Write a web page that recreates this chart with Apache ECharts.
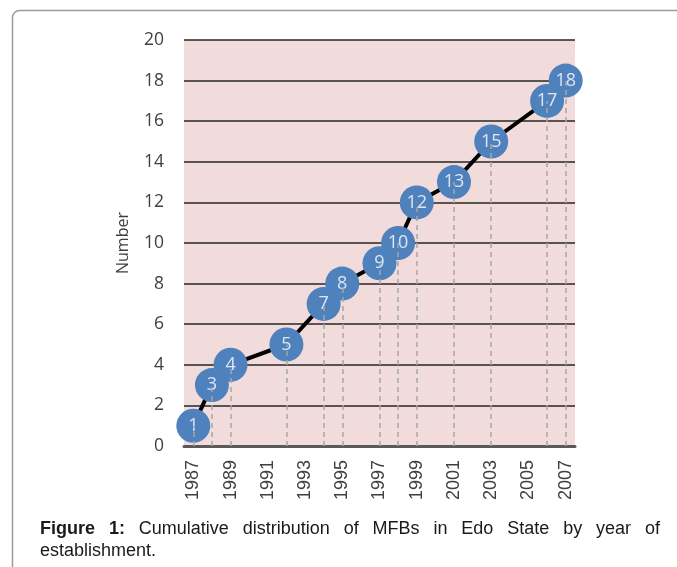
<!DOCTYPE html>
<html>
<head>
<meta charset="utf-8">
<script src="https://cdn.jsdelivr.net/npm/echarts@6/dist/echarts.min.js"></script>
<style>
  html, body { margin: 0; padding: 0; background: #fff; }
  #wrap { position: relative; width: 677px; height: 567px; overflow: hidden; }
  #chart { position: absolute; left: 0; top: 0; width: 677px; height: 567px; }
  #caption {
    position: absolute; left: 40px; top: 517px; width: 620px;
    font-family: "Liberation Sans", Arial, sans-serif; font-size: 18px;
    line-height: 22px; color: #1a1a1a;
  }
  #caption .l1 { text-align: justify; text-align-last: justify; }
</style>
</head>
<body>
<div id="wrap">
  <div id="chart"></div>
  <div id="caption"><div class="l1"><b>Figure 1:</b> Cumulative distribution of MFBs in Edo State by year of</div><div>establishment.</div></div>
</div>
<script>
// Category axis (every year 1987-2007)
const categories = ['1987','1988','1989','1990','1991','1992','1993','1994','1995','1996','1997',
                    '1998','1999','2000','2001','2002','2003','2004','2005','2006','2007'];
// Years with a new establishment and the cumulative number reached
const years  = ['1987','1988','1989','1992','1994','1995','1997','1998','1999','2001','2003','2006','2007'];
const counts = [1, 3, 4, 5, 7, 8, 9, 10, 12, 13, 15, 17, 18];
// Y-axis ticks
const yMin = 0, yMax = 20, yStep = 2;

const points = years.map((y, i) => [y, counts[i]]);
const drops = years.map((y, i) => [{ coord: [y, 0] }, { coord: [y, counts[i]] }]);

const chart = echarts.init(document.getElementById('chart'), null, { renderer: 'canvas' });
chart.setOption({
  animation: false,
  graphic: [{
    type: 'rect', silent: true, z: -10,
    shape: { x: 12.5, y: 10.5, width: 720, height: 620, r: 7 },
    style: { fill: 'none', stroke: '#9c9c9c', lineWidth: 1.5 }
  }],
  grid: {
    left: 184, right: 102, top: 40, bottom: 121,
    show: true, backgroundColor: '#F2DCDB', borderWidth: 0
  },
  xAxis: {
    type: 'category', data: categories, boundaryGap: true,
    axisLine: { show: true, lineStyle: { color: '#595959', width: 3 } },
    axisTick: { show: false },
    axisLabel: {
      interval: 1, rotate: 90, margin: 14,
      fontFamily: '"Liberation Sans", Arial, sans-serif', fontSize: 18, color: '#404040'
    },
    splitLine: { show: false }
  },
  yAxis: {
    type: 'value', min: yMin, max: yMax, interval: yStep,
    name: 'Number', nameLocation: 'middle', nameGap: 53,
    nameTextStyle: { fontFamily: '"Open Sans", sans-serif', fontSize: 16, color: '#404040' },
    axisLine: { show: false }, axisTick: { show: false },
    axisLabel: { margin: 20, fontFamily: '"Open Sans", sans-serif', fontSize: 17.5, color: '#404040' },
    splitLine: { show: true, lineStyle: { color: '#262626', width: 1.6 } }
  },
  series: [
    {
      type: 'line', data: points, z: 2,
      symbol: 'circle', symbolSize: 34, showAllSymbol: true,
      itemStyle: { color: '#4F81BD' },
      lineStyle: { color: '#000', width: 4 },
      label: { show: false }
    },
    {
      type: 'line', data: [], z: 3,
      markLine: {
        silent: true, symbol: ['none', 'none'],
        label: { show: false },
        lineStyle: { color: '#A6A6A6', width: 1.5, type: [5, 4] },
        data: drops
      }
    },
    {
      type: 'scatter', data: points, z: 4,
      symbolSize: 1, itemStyle: { color: 'rgba(0,0,0,0)' },
      label: {
        show: true, position: 'inside', formatter: p => p.value[1],
        fontFamily: '"Open Sans", sans-serif', fontSize: 18, color: '#fff'
      }
    }
  ]
});
</script>
</body>
</html>
